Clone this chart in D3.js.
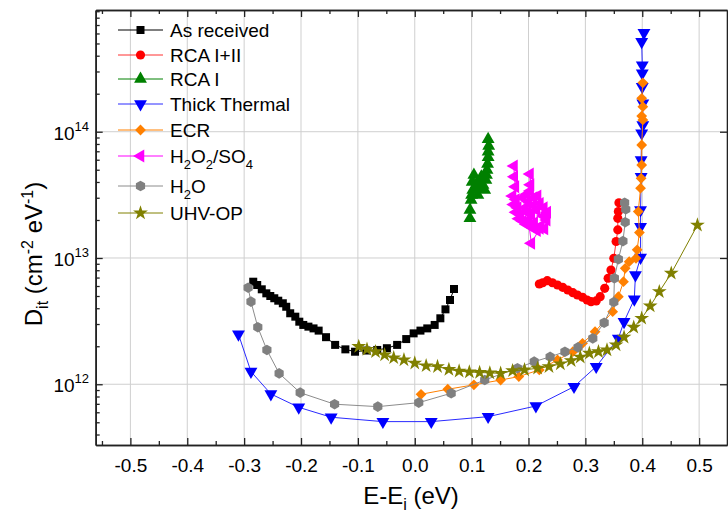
<!DOCTYPE html>
<html><head><meta charset="utf-8">
<script src="https://cdn.jsdelivr.net/npm/d3@7"></script>
<style>body{margin:0;background:#fff}svg{display:block}text{font-family:Arial,"Liberation Sans",sans-serif}</style>
</head><body><svg id="c" width="728" height="520"></svg>
<script>
// ---- data (D values in units of 1e12 cm^-2 eV^-1) ----
const asX = [-0.284,-0.277,-0.269,-0.261,-0.254,-0.247,-0.240,-0.232,-0.226,-0.219,-0.210,-0.203,-0.196,-0.187,-0.178,-0.169,-0.156,-0.140,-0.122,-0.105,-0.085,-0.066,-0.049,-0.031,-0.015,-0.002,0.010,0.022,0.035,0.045,0.054,0.062,0.069];
const asY = [6.49,6.11,5.65,5.25,5.00,4.80,4.59,4.38,4.11,3.65,3.43,3.13,2.95,2.86,2.77,2.66,2.36,2.05,1.89,1.81,1.85,1.87,1.93,2.05,2.28,2.53,2.66,2.77,2.95,3.33,3.92,4.65,5.68];
const rca12X = [0.219,0.225,0.233,0.242,0.251,0.260,0.269,0.278,0.286,0.295,0.303,0.310,0.319,0.326,0.334,0.340,0.345,0.350,0.354,0.357,0.357,0.358,0.359];
const rca12Y = [6.22,6.37,6.61,6.37,6.11,5.86,5.58,5.31,5.09,4.89,4.65,4.51,4.57,4.94,5.75,6.91,8.03,9.95,13.5,16.7,20.6,23.3,27.4];
const rca1X = [0.097,0.097,0.099,0.100,0.102,0.101,0.104,0.108,0.111,0.114,0.113,0.117,0.120,0.123,0.125,0.126,0.127,0.128,0.129,0.129,0.130,0.129];
const rca1Y = [20.6,24.0,28.8,31.5,34.5,40.0,45.4,38.0,31.5,35.0,40.0,44.0,37.8,34.5,41.5,45.4,49.7,55.5,62.7,69.5,77.1,87.1];
const thickX = [-0.310,-0.288,-0.253,-0.204,-0.147,-0.056,0.029,0.129,0.213,0.280,0.319,0.358,0.368,0.386,0.388,0.397,0.397,0.397,0.398,0.398,0.399,0.401,0.401,0.400,0.400,0.400,0.399,0.403];
const thickY = [2.49,1.26,0.838,0.657,0.548,0.506,0.506,0.554,0.673,0.957,1.38,2.31,3.13,4.71,7.33,10.1,17.7,24.0,44.0,59.7,97.1,113,168,227,290,337,516,608];
const ecrX = [0.011,0.058,0.104,0.151,0.183,0.219,0.251,0.278,0.295,0.317,0.348,0.358,0.367,0.370,0.377,0.389,0.391,0.395,0.393,0.397,0.398,0.399,0.399,0.401,0.399,0.401,0.399,0.401];
const ecrY = [0.833,0.913,0.99,1.08,1.15,1.30,1.56,1.81,2.11,2.61,3.76,4.94,6.49,8.28,9.35,9.95,11.6,15.9,23.3,35.7,42.8,54.5,78.5,124,133,158,184,244];
const hsX = [0.1745,0.175,0.177,0.172,0.178,0.174,0.181,0.178,0.186,0.183,0.190,0.196,0.200,0.206,0.210,0.215,0.222,0.228,0.232,0.226,0.233,0.227,0.220,0.214,0.208,0.200,0.194,0.190,0.197,0.203,0.2027,0.2035,0.209,0.216,0.205,0.198,0.205,0.220];
const hsY = [53.5,44.0,36.7,31.0,29.0,26.5,25.0,23.0,22.0,20.5,19.5,18.5,20.0,17.5,19.0,16.5,18.0,17.0,20.0,21.5,23.0,25.0,27.0,24.0,26.0,28.0,25.0,30.0,32.0,34.0,46.3,38.0,30.0,31.0,22.0,23.0,13.1,17.2];
const h2oX = [-0.293,-0.288,-0.276,-0.260,-0.2385,-0.2015,-0.141,-0.065,0.007,0.064,0.123,0.1805,0.210,0.238,0.264,0.287,0.313,0.333,0.350,0.351,0.358,0.366,0.370,0.371,0.369];
const h2oY = [5.82,4.51,2.83,1.87,1.22,0.858,0.695,0.665,0.715,0.849,1.08,1.34,1.51,1.65,1.81,1.96,2.31,3.07,4.48,6.91,9.77,13.6,19.2,24.3,27.4];
const uhvX = [-0.0985,-0.084,-0.069,-0.053,-0.037,-0.019,0.000,0.020,0.040,0.060,0.078,0.096,0.114,0.132,0.151,0.172,0.193,0.216,0.236,0.256,0.275,0.291,0.307,0.323,0.338,0.354,0.368,0.385,0.399,0.414,0.430,0.451,0.497];
const uhvY = [1.99,1.89,1.81,1.71,1.62,1.56,1.47,1.40,1.38,1.31,1.27,1.25,1.24,1.23,1.22,1.28,1.30,1.34,1.38,1.45,1.54,1.64,1.76,1.81,1.87,2.05,2.36,2.83,3.33,4.17,5.41,7.57,18.2];
const seriesNames = ["As received","RCA I+II","RCA I","Thick Thermal","ECR","H2O2/SO4","H2O","UHV-OP"];
const xTicks = [-0.5,-0.4,-0.3,-0.2,-0.1,0.0,0.1,0.2,0.3,0.4,0.5];
const yTickExps = [12,13,14];

// ---- layout ----
const L = 95.7, R = 727, T = 10, B = 445;
const svg = d3.select("#c");
const x = d3.scaleLinear().domain([-0.561, 0.549]).range([L, R]);
const y = d3.scaleLog().domain([Math.pow(10, 11.519), Math.pow(10, 14.964)]).range([B, T]);

// gridlines
const grid = svg.append("g").attr("stroke", "#cfcfcf").attr("stroke-width", 1);
xTicks.forEach(v => grid.append("line").attr("x1", x(v)).attr("x2", x(v)).attr("y1", T).attr("y2", B));
yTickExps.forEach(e => grid.append("line").attr("x1", L).attr("x2", R).attr("y1", y(Math.pow(10, e))).attr("y2", y(Math.pow(10, e))));

// series
const hexPath = r => { let p = ""; for (let k = 0; k < 6; k++) { const a = Math.PI / 180 * (60 * k - 90); p += (k ? "L" : "M") + (r * Math.cos(a)).toFixed(2) + "," + (r * Math.sin(a)).toFixed(2); } return p + "Z"; };
const S = [
  {xs: asX, ys: asY, color: "#000000", line: "#000000", path: d3.symbol(d3.symbolSquare, 64)(), rot: 0},
  {xs: rca12X, ys: rca12Y, color: "#ff0000", line: "#ff3030", path: d3.symbol(d3.symbolCircle, 66)(), rot: 0},
  {xs: rca1X, ys: rca1Y, color: "#008000", line: "#008000", path: d3.symbol(d3.symbolTriangle, 72)(), rot: 0},
  {xs: thickX, ys: thickY, color: "#0000ff", line: "#2a2aff", path: d3.symbol(d3.symbolTriangle, 72)(), rot: 180},
  {xs: ecrX, ys: ecrY, color: "#ff8000", line: "#ff8000", path: d3.symbol(d3.symbolSquare, 58)(), rot: 45},
  {xs: hsX, ys: hsY, color: "#ff00ff", line: "#ff00ff", path: d3.symbol(d3.symbolTriangle, 72)(), rot: -90},
  {xs: h2oX, ys: h2oY, color: "#808080", line: "#8c8c8c", path: hexPath(5.3), rot: 0},
  {xs: uhvX, ys: uhvY, color: "#808000", line: "#808000", path: d3.symbol(d3.symbolStar, 68)(), rot: 0}
];
const lineGen = d3.line().x(d => x(d[0])).y(d => y(d[1] * 1e12));
const plot = svg.append("g");
S.forEach(s => {
  const pts = s.xs.map((v, i) => [v, s.ys[i]]);
  const g = plot.append("g");
  g.append("path").attr("d", lineGen(pts)).attr("fill", "none").attr("stroke", s.line).attr("stroke-width", 1);
  g.selectAll("path.m").data(pts).join("path").attr("class", "m")
    .attr("d", s.path).attr("fill", s.color)
    .attr("transform", d => `translate(${x(d[0])},${y(d[1] * 1e12)}) rotate(${s.rot})`);
});

// axes
const minorX = d3.range(-55, 55, 10).map(v => v / 100);
const axStyle = g => { g.selectAll("path.domain").attr("stroke", "#222").attr("stroke-width", 1.6); g.selectAll(".tick line").attr("stroke", "#222").attr("stroke-width", 1.3); };
svg.append("g").attr("transform", `translate(0,${B})`)
  .call(d3.axisBottom(x).tickValues(xTicks).tickSize(-7).tickSizeOuter(0).tickPadding(14).tickFormat(d => d.toFixed(1)))
  .call(axStyle).call(g => g.selectAll("text").attr("font-size", 19).attr("fill", "#000").attr("font-family", "Arial, Liberation Sans"));
svg.append("g").attr("transform", `translate(0,${B})`)
  .call(d3.axisBottom(x).tickValues(minorX).tickSize(-4).tickSizeOuter(0).tickFormat("")).call(axStyle);
svg.append("g").attr("transform", `translate(0,${T})`)
  .call(d3.axisTop(x).tickValues(xTicks).tickSize(-7).tickSizeOuter(0).tickFormat("")).call(axStyle);
svg.append("g").attr("transform", `translate(0,${T})`)
  .call(d3.axisTop(x).tickValues(minorX).tickSize(-4).tickSizeOuter(0).tickFormat("")).call(axStyle);
const yMajor = yTickExps.map(e => Math.pow(10, e));
const yMinor = [];
[11, 12, 13, 14].forEach(e => { for (let k = 2; k <= 9; k++) { const v = k * Math.pow(10, e); if (v >= y.domain()[0] && v <= y.domain()[1]) yMinor.push(v); } });
svg.append("g").attr("transform", `translate(${L},0)`)
  .call(d3.axisLeft(y).tickValues(yMajor).tickSize(-7).tickSizeOuter(0).tickFormat("")).call(axStyle);
svg.append("g").attr("transform", `translate(${L},0)`)
  .call(d3.axisLeft(y).tickValues(yMinor).tickSize(-4).tickSizeOuter(0).tickFormat("")).call(axStyle);
svg.append("g").attr("transform", `translate(${R},0)`)
  .call(d3.axisRight(y).tickValues(yMajor).tickSize(-7).tickSizeOuter(0).tickFormat("")).call(axStyle);

// y tick labels with superscripts
yTickExps.forEach(e => {
  const t = svg.append("text").attr("x", 89).attr("y", y(Math.pow(10, e)) + 8).attr("text-anchor", "end").attr("font-size", 19);
  t.append("tspan").text("10");
  t.append("tspan").attr("dy", -9).attr("font-size", 13).text(String(e));
});

// axis titles
const xt = svg.append("text").attr("x", 411).attr("y", 504).attr("text-anchor", "middle").attr("font-size", 24);
xt.append("tspan").text("E-E");
xt.append("tspan").attr("dy", 6).attr("font-size", 16).text("i");
xt.append("tspan").attr("dy", -6).text(" (eV)");
const yt = svg.append("text").attr("transform", "translate(42,254) rotate(-90)").attr("text-anchor", "middle").attr("font-size", 24);
yt.append("tspan").text("D");
yt.append("tspan").attr("dy", 6).attr("font-size", 16).text("it");
yt.append("tspan").attr("dy", -6).text(" (cm");
yt.append("tspan").attr("dy", -9).attr("font-size", 16).text("-2");
yt.append("tspan").attr("dy", 9).text(" eV");
yt.append("tspan").attr("dy", -9).attr("font-size", 16).text("-1");
yt.append("tspan").attr("dy", 9).text(")");

// legend
const legY = [30, 55, 79, 104, 130, 156, 186, 213];
const leg = svg.append("g");
S.forEach((s, i) => {
  const yy = legY[i];
  leg.append("line").attr("x1", 118).attr("x2", 163).attr("y1", yy).attr("y2", yy).attr("stroke", s.line).attr("stroke-width", 1);
  leg.append("path").attr("d", s.path).attr("fill", s.color).attr("transform", `translate(140.5,${yy}) rotate(${s.rot})`);
  const t = leg.append("text").attr("x", 170).attr("y", yy + 7).attr("font-size", 19);
  const nm = seriesNames[i];
  if (nm === "H2O2/SO4") {
    t.append("tspan").text("H"); t.append("tspan").attr("dy", 6).attr("font-size", 13).text("2");
    t.append("tspan").attr("dy", -6).text("O"); t.append("tspan").attr("dy", 6).attr("font-size", 13).text("2");
    t.append("tspan").attr("dy", -6).text("/SO"); t.append("tspan").attr("dy", 6).attr("font-size", 13).text("4");
  } else if (nm === "H2O") {
    t.append("tspan").text("H"); t.append("tspan").attr("dy", 6).attr("font-size", 13).text("2");
    t.append("tspan").attr("dy", -6).text("O");
  } else t.text(nm);
});
</script></body></html>
